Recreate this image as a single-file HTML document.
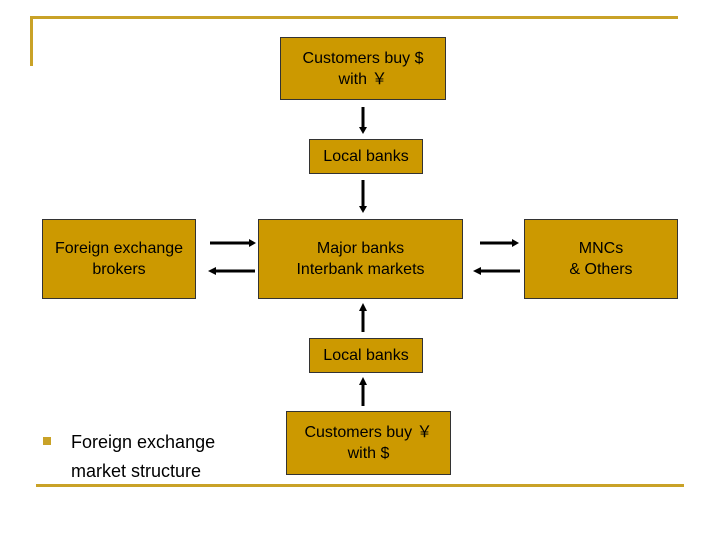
<!DOCTYPE html>
<html><head><style>
body{margin:0;width:720px;height:540px;background:#fff;position:relative;font-family:"Liberation Sans",sans-serif;overflow:hidden}
.b{position:absolute;background:#cc9900;border:1px solid #333;box-sizing:border-box;display:flex;align-items:center;justify-content:center;text-align:center;font-size:16px;line-height:21px;color:#000}
.l{position:absolute;background:#c9a227}
.v{position:absolute;width:3px;background:#000}
.h{position:absolute;height:3px;background:#000}
</style></head><body>
<div class="l" style="left:30px;top:16px;width:648px;height:3px"></div>
<div class="l" style="left:30px;top:16px;width:3px;height:50px"></div>
<div class="l" style="left:36px;top:484px;width:648px;height:3px"></div>
<div class="b" style="left:280px;top:37px;width:166px;height:63px">Customers buy $<br>with ￥</div>
<div class="b" style="left:309px;top:139px;width:114px;height:35px">Local banks</div>
<div class="b" style="left:42px;top:219px;width:154px;height:80px">Foreign exchange<br>brokers</div>
<div class="b" style="left:258px;top:219px;width:205px;height:80px">Major banks<br>Interbank markets</div>
<div class="b" style="left:524px;top:219px;width:154px;height:80px">MNCs<br>&amp; Others</div>
<div class="b" style="left:309px;top:338px;width:114px;height:35px">Local banks</div>
<div class="b" style="left:286px;top:411px;width:165px;height:64px">Customers buy ￥<br>with $</div>
<svg width="720" height="540" style="position:absolute;left:0;top:0">
<g stroke="#000" stroke-width="3" fill="#000">
<line x1="363" y1="107" x2="363" y2="128"/><polygon points="359,127 367,127 363,134" stroke="none"/>
<line x1="363" y1="180" x2="363" y2="208"/><polygon points="359,206 367,206 363,213" stroke="none"/>
<line x1="363" y1="332" x2="363" y2="310"/><polygon points="359,311 367,311 363,303" stroke="none"/>
<line x1="363" y1="406" x2="363" y2="384"/><polygon points="359,385 367,385 363,377" stroke="none"/>
<line x1="210" y1="243" x2="250" y2="243"/><polygon points="249,239 249,247 256,243" stroke="none"/>
<line x1="255" y1="271" x2="214" y2="271"/><polygon points="216,267 216,275 208,271" stroke="none"/>
<line x1="480" y1="243" x2="513" y2="243"/><polygon points="512,239 512,247 519,243" stroke="none"/>
<line x1="520" y1="271" x2="480" y2="271"/><polygon points="481,267 481,275 473,271" stroke="none"/>
</g></svg>
<div style="position:absolute;left:43px;top:437px;width:8px;height:8px;background:#c9a227"></div>
<div style="position:absolute;left:71px;top:428px;font-size:18px;line-height:29px;color:#000">Foreign exchange<br>market structure</div>
</body></html>
